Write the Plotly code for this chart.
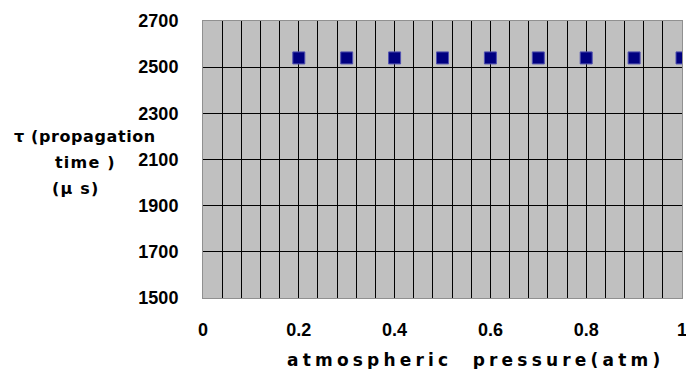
import plotly.graph_objects as go

pressure = [0.2, 0.3, 0.4, 0.5, 0.6, 0.7, 0.8, 0.9, 1.0]
prop_time = [2540, 2540, 2540, 2540, 2540, 2540, 2540, 2540, 2540]
x_ticks = [0, 0.2, 0.4, 0.6, 0.8, 1]
x_labels = ["0", "0.2", "0.4", "0.6", "0.8", "1"]
y_ticks = [1500, 1700, 1900, 2100, 2300, 2500, 2700]

tick_font = dict(family="Liberation Sans, Arial, sans-serif", size=18, color="black", weight="bold")
title_fam = "DejaVu Sans, sans-serif"

L, R, T, B = 203, 4, 21, 71
W, H = 686, 369
PW, PH = W - L - R, H - T - B


def px(x):
    return (x - L) / PW


def py(y):
    return (H - B - y) / PH


fig = go.Figure()
fig.add_trace(go.Scatter(
    x=pressure, y=prop_time, mode="markers",
    marker=dict(symbol="square", size=12, color="#000080",
                line=dict(color="#5050B0", width=1)),
    cliponaxis=True, showlegend=False,
))

fig.update_layout(
    width=W, height=H,
    margin=dict(l=L, r=R, t=T, b=B, autoexpand=False),
    paper_bgcolor="white", plot_bgcolor="#C0C0C0",
    xaxis=dict(range=[0, 1], tickvals=x_ticks, ticktext=x_labels, automargin=False,
               showgrid=True, gridcolor="black", gridwidth=1,
               minor=dict(dtick=0.04, tick0=0, showgrid=True, gridcolor="black", gridwidth=1),
               zeroline=False, showline=True, linecolor="#909090", mirror=True,
               ticks="", ticklabelstandoff=15, ticklabeloverflow="allow", tickfont=tick_font),
    yaxis=dict(range=[1500, 2700], tickvals=y_ticks, automargin=False,
               showgrid=True, gridcolor="black", gridwidth=1,
               zeroline=False, showline=True, linecolor="#909090", mirror=True,
               ticks="", ticklabelstandoff=20, tickfont=tick_font),
)

ttl_font = dict(size=16, family=title_fam, color="black", weight="bold")
x_ttl_font = dict(size=17, family=title_fam, color="black", weight="bold")


def spaced(s, sp):
    return '<span style="letter-spacing:%spx">%s</span>' % (sp, s)


fig.add_annotation(text=spaced("atmospheric  pressure(atm)", 4.2),
                   xref="paper", yref="paper", x=px(475), y=py(359.5),
                   xanchor="center", yanchor="middle", showarrow=False, font=x_ttl_font)
fig.add_annotation(text=spaced("τ (propagation", 0.6),
                   xref="paper", yref="paper", x=px(12), y=py(136),
                   xanchor="left", yanchor="middle", showarrow=False, font=ttl_font)
fig.add_annotation(text=spaced("time )", 1.2),
                   xref="paper", yref="paper", x=px(53), y=py(162),
                   xanchor="left", yanchor="middle", showarrow=False, font=ttl_font)
fig.add_annotation(text=spaced("(μ s)", 1.2),
                   xref="paper", yref="paper", x=px(50), y=py(188),
                   xanchor="left", yanchor="middle", showarrow=False, font=ttl_font)

fig.write_html("out.html")
